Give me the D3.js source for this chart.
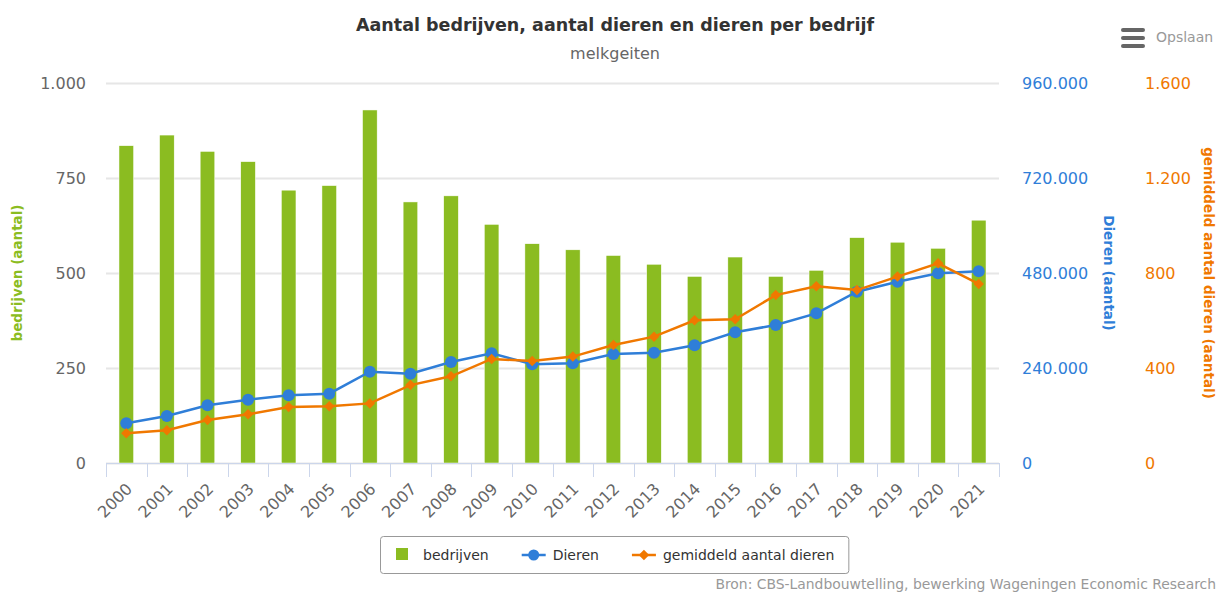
<!DOCTYPE html>
<html>
<head>
<meta charset="utf-8">
<script src="https://cdn.jsdelivr.net/npm/d3@7"></script>
<style>
  body { margin: 0; background: #fff; }
  svg { font-family: 'DejaVu Sans', Verdana, sans-serif; }
</style>
</head>
<body>
<div id="chart"></div>
<script>
// data
const years = ['2000','2001','2002','2003','2004','2005','2006','2007','2008','2009','2010',
               '2011','2012','2013','2014','2015','2016','2017','2018','2019','2020','2021'];
const bedrijven = [835, 863, 820, 793, 718, 730, 929, 687, 703, 628, 577,
                   561, 546, 523, 491, 542, 491, 507, 593, 581, 565, 639];
const dieren = [100300, 118700, 145700, 160000, 171000, 175200, 230700, 225600, 255200, 277000, 249300,
                251800, 275400, 278700, 297300, 330100, 348600, 378100, 432800, 458100, 479200, 484200];
const gemiddeld = [125, 138, 181, 205, 236, 239, 251, 328, 365, 438, 429,
                   448, 497, 532, 601, 605, 707, 744, 728, 785, 841, 754];
const bedrijvenTicks = [0, 250, 500, 750, 1000];
const dierenTicks = [0, 240000, 480000, 720000, 960000];
const gemiddeldTicks = [0, 400, 800, 1200, 1600];

const colors = {bedrijven: '#8bbc21', dieren: '#2f7ed8', gemiddeld: '#f07800'};

const W = 1218, H = 592;
const margin = {top: 83, right: 219, bottom: 129, left: 106};
const plotW = W - margin.left - margin.right;
const plotH = H - margin.top - margin.bottom;

const nl = d3.formatLocale({decimal: ',', thousands: '.', grouping: [3], currency: ['€', '']});
const fmt = nl.format(',');

const svg = d3.select('#chart').append('svg')
  .attr('width', W)
  .attr('height', H);

const x = d3.scaleBand().domain(years).range([margin.left, margin.left + plotW]);
const yBed = d3.scaleLinear().domain([0, 1000]).range([margin.top + plotH, margin.top]);
const yDier = d3.scaleLinear().domain([0, 960000]).range([margin.top + plotH, margin.top]);
const yGem = d3.scaleLinear().domain([0, 1600]).range([margin.top + plotH, margin.top]);

// title
svg.append('text')
  .attr('x', 615).attr('y', 31)
  .attr('text-anchor', 'middle')
  .style('font-size', '17.5px').style('font-weight', 'bold').style('fill', '#333')
  .text('Aantal bedrijven, aantal dieren en dieren per bedrijf');
svg.append('text')
  .attr('x', 615).attr('y', 59)
  .attr('text-anchor', 'middle')
  .style('font-size', '16px').style('fill', '#666')
  .text('melkgeiten');

// export button
const btn = svg.append('g').attr('transform', 'translate(1121,28)');
[0, 8, 16].forEach(dy => {
  btn.append('rect').attr('x', 0).attr('y', dy).attr('width', 24).attr('height', 4)
    .attr('rx', 2).style('fill', '#666');
});
svg.append('text').attr('x', 1156).attr('y', 42)
  .style('font-size', '14px').style('fill', '#999').text('Opslaan');

// grid
svg.append('g')
  .attr('class', 'grid')
  .attr('transform', 'translate(' + margin.left + ',0)')
  .call(d3.axisLeft(yBed).tickValues(bedrijvenTicks).tickSize(-plotW).tickFormat(''))
  .call(g => g.select('.domain').remove())
  .call(g => g.selectAll('line').style('stroke', '#e6e6e6').style('stroke-width', 2));

const plainAxis = (g, color) => {
  g.attr('font-family', null).attr('font-size', null);
  g.select('.domain').remove();
  g.selectAll('text').style('font-size', '16px').style('fill', color);
};

// left axis
svg.append('g')
  .attr('transform', 'translate(' + margin.left + ',0)')
  .call(d3.axisLeft(yBed).tickValues(bedrijvenTicks).tickSize(0).tickPadding(20).tickFormat(fmt))
  .call(g => plainAxis(g, '#666'));

// right axes
svg.append('g')
  .attr('transform', 'translate(' + (margin.left + plotW) + ',0)')
  .call(d3.axisRight(yDier).tickValues(dierenTicks).tickSize(0).tickPadding(23).tickFormat(fmt))
  .call(g => plainAxis(g, colors.dieren));

svg.append('g')
  .attr('transform', 'translate(1145,0)')
  .call(d3.axisRight(yGem).tickValues(gemiddeldTicks).tickSize(0).tickPadding(0).tickFormat(fmt))
  .call(g => plainAxis(g, colors.gemiddeld));

// axis titles
const midY = margin.top + plotH / 2;
svg.append('text')
  .attr('transform', 'translate(22,' + midY + ') rotate(-90)')
  .attr('text-anchor', 'middle')
  .style('font-size', '13.5px').style('font-weight', 'bold').style('fill', colors.bedrijven)
  .text('bedrijven (aantal)');
svg.append('text')
  .attr('transform', 'translate(1104,' + midY + ') rotate(90)')
  .attr('text-anchor', 'middle')
  .style('font-size', '13.5px').style('font-weight', 'bold').style('fill', colors.dieren)
  .text('Dieren (aantal)');
svg.append('text')
  .attr('transform', 'translate(1204,' + midY + ') rotate(90)')
  .attr('text-anchor', 'middle')
  .style('font-size', '13.5px').style('font-weight', 'bold').style('fill', colors.gemiddeld)
  .text('gemiddeld aantal dieren (aantal)');

// bars
const barW = x.bandwidth() * 0.36;
svg.selectAll('.bar')
  .data(years)
  .enter().append('rect')
  .attr('class', 'bar')
  .attr('x', (d) => x(d) + (x.bandwidth() - barW) / 2)
  .attr('width', barW)
  .attr('y', (d, i) => yBed(bedrijven[i]))
  .attr('height', (d, i) => yBed(0) - yBed(bedrijven[i]))
  .style('fill', colors.bedrijven)
  .style('stroke', '#fff').style('stroke-width', 0.5);

// x axis
const xAxisY = margin.top + plotH;
svg.append('line')
  .attr('x1', margin.left).attr('x2', margin.left + plotW)
  .attr('y1', xAxisY + 0.5).attr('y2', xAxisY + 0.5)
  .style('stroke', '#ccd6eb');
const bounds = years.map(d => x(d)).concat([x.range()[1]]);
svg.selectAll('.xtick')
  .data(bounds)
  .enter().append('line')
  .attr('class', 'xtick')
  .attr('x1', d => Math.round(d) + 0.5).attr('x2', d => Math.round(d) + 0.5)
  .attr('y1', xAxisY).attr('y2', xAxisY + 14)
  .style('stroke', '#ccd6eb');
svg.selectAll('.xlabel')
  .data(years)
  .enter().append('text')
  .attr('class', 'xlabel')
  .attr('transform', d => 'translate(' + (x(d) + x.bandwidth() / 2 + 3) + ',' + (xAxisY + 23) + ') rotate(-45)')
  .attr('text-anchor', 'end')
  .attr('dy', '0.35em')
  .style('font-size', '16px').style('fill', '#666')
  .text(d => d);

// lines
const cx = (d) => x(d) + x.bandwidth() / 2;
const dierLine = d3.line().x((d, i) => cx(years[i])).y(d => yDier(d));
const gemLine = d3.line().x((d, i) => cx(years[i])).y(d => yGem(d));

svg.append('path').datum(dieren)
  .attr('d', dierLine)
  .style('fill', 'none').style('stroke', colors.dieren).style('stroke-width', 2.5);
svg.selectAll('.dot')
  .data(dieren)
  .enter().append('circle')
  .attr('class', 'dot')
  .attr('cx', (d, i) => cx(years[i]))
  .attr('cy', d => yDier(d))
  .attr('r', 6)
  .style('fill', colors.dieren);

svg.append('path').datum(gemiddeld)
  .attr('d', gemLine)
  .style('fill', 'none').style('stroke', colors.gemiddeld).style('stroke-width', 2.5);
const diamond = d3.symbol().type(d3.symbolDiamond2).size(70);
svg.selectAll('.diam')
  .data(gemiddeld)
  .enter().append('path')
  .attr('class', 'diam')
  .attr('transform', (d, i) => 'translate(' + cx(years[i]) + ',' + yGem(d) + ')')
  .attr('d', diamond)
  .style('fill', colors.gemiddeld);

// legend
const legend = svg.append('g');
const legItems = [
  {name: 'bedrijven', type: 'bar', color: colors.bedrijven},
  {name: 'Dieren', type: 'circle', color: colors.dieren},
  {name: 'gemiddeld aantal dieren', type: 'diamond', color: colors.gemiddeld}
];
const legBox = legend.append('rect');
const legY = 555;
let lx = 16;
legItems.forEach(item => {
  const g = legend.append('g');
  if (item.type === 'bar') {
    g.append('rect').attr('x', lx).attr('y', legY - 7).attr('width', 12).attr('height', 12)
      .style('fill', item.color);
    lx += 27;
  } else {
    g.append('line').attr('x1', lx).attr('x2', lx + 24).attr('y1', legY).attr('y2', legY)
      .style('stroke', item.color).style('stroke-width', 2.5);
    if (item.type === 'circle') {
      g.append('circle').attr('cx', lx + 12).attr('cy', legY).attr('r', 5.5).style('fill', item.color);
    } else {
      g.append('path').attr('transform', 'translate(' + (lx + 12) + ',' + legY + ')')
        .attr('d', diamond).style('fill', item.color);
    }
    lx += 31;
  }
  const t = g.append('text').attr('x', lx).attr('y', legY + 5)
    .style('font-size', '14px').style('fill', '#333').text(item.name);
  lx += t.node().getComputedTextLength() + 33;
});
const legW = lx - 33 + 14;
legBox.attr('x', 0.5).attr('y', 536.5).attr('width', legW).attr('height', 37)
  .attr('rx', 3).style('fill', 'none').style('stroke', '#999');
legend.attr('transform', 'translate(' + Math.round(614 - legW / 2) + ',0)');

// credits
svg.append('text')
  .attr('x', 1216).attr('y', 589)
  .attr('text-anchor', 'end')
  .style('font-size', '13.9px').style('fill', '#999')
  .text('Bron: CBS-Landbouwtelling, bewerking Wageningen Economic Research');
</script>
</body>
</html>
